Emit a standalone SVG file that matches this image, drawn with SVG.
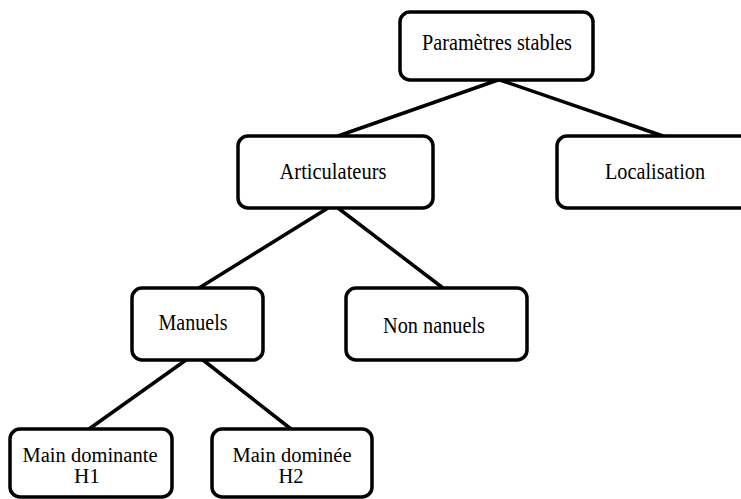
<svg xmlns="http://www.w3.org/2000/svg" width="741" height="499" viewBox="0 0 741 499">
<style>
.box{fill:#fff;stroke:#000;stroke-width:3.5}
.ln{stroke:#000;stroke-width:3.5;fill:none;stroke-linecap:round}
text{font-family:"Liberation Serif","Times New Roman",serif;font-size:22.5px;fill:#000;text-anchor:middle}
text.sm{font-size:20px}
</style>
<rect width="741" height="499" fill="#fff"/>
<g id="connectors">
<line class="ln" x1="498" y1="80" x2="338" y2="136"/>
<line class="ln" x1="500" y1="80" x2="663" y2="136"/>
<line class="ln" x1="328" y1="208" x2="199" y2="288"/>
<line class="ln" x1="338" y1="208" x2="443" y2="288"/>
<line class="ln" x1="186" y1="360" x2="89" y2="429"/>
<line class="ln" x1="203" y1="360" x2="291" y2="429"/>
</g>
<g id="n-parametres">
<rect class="box" x="400" y="12" width="193" height="68" rx="10"/>
<text x="497" y="49.5" textLength="150" lengthAdjust="spacingAndGlyphs">Paramètres stables</text>
</g>
<g id="n-articulateurs">
<rect class="box" x="238" y="136" width="195" height="72" rx="10"/>
<text x="333" y="179" textLength="107" lengthAdjust="spacingAndGlyphs">Articulateurs</text>
</g>
<g id="n-localisation">
<rect class="box" x="557" y="136" width="196" height="72" rx="10"/>
<text x="655" y="179" textLength="100" lengthAdjust="spacingAndGlyphs">Localisation</text>
</g>
<g id="n-manuels">
<rect class="box" x="132" y="288" width="131" height="72" rx="10"/>
<text x="193" y="330" textLength="69" lengthAdjust="spacingAndGlyphs">Manuels</text>
</g>
<g id="n-non-nanuels">
<rect class="box" x="346" y="288" width="181" height="72" rx="10"/>
<text x="434" y="333" textLength="102" lengthAdjust="spacingAndGlyphs">Non nanuels</text>
</g>
<g id="n-main-dominante">
<rect class="box" x="10" y="429" width="162" height="68" rx="10"/>
<text class="sm" x="90" y="462" textLength="135" lengthAdjust="spacingAndGlyphs">Main dominante</text>
<text class="sm" x="87" y="483" textLength="26" lengthAdjust="spacingAndGlyphs">H1</text>
</g>
<g id="n-main-dominee">
<rect class="box" x="212" y="429" width="160" height="68" rx="10"/>
<text class="sm" x="292" y="462" textLength="119" lengthAdjust="spacingAndGlyphs">Main dominée</text>
<text class="sm" x="291" y="483" textLength="25" lengthAdjust="spacingAndGlyphs">H2</text>
</g>
</svg>
